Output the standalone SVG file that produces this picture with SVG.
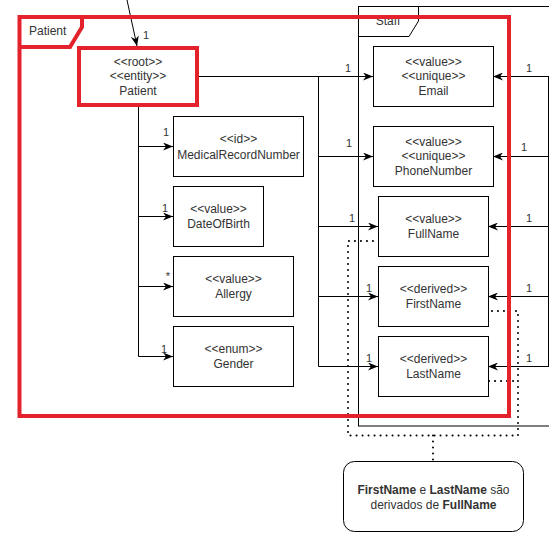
<svg xmlns="http://www.w3.org/2000/svg" width="549" height="537" viewBox="0 0 549 537">
<defs>
<marker id="arr" markerUnits="userSpaceOnUse" markerWidth="10" markerHeight="8" refX="10" refY="4" orient="auto">
<path d="M0,0 L10,4 L0,8 L3,4 Z" fill="#000"/>
</marker>
<style>
.box{fill:#fff;stroke:#000;stroke-width:1}
.t{font-family:"Liberation Sans",Arial,sans-serif;font-size:12px;fill:#333;text-anchor:middle}
.lbl{font-family:"Liberation Sans",Arial,sans-serif;font-size:11px;fill:#333}
.ln{fill:none;stroke:#000;stroke-width:1}
.ar{fill:none;stroke:#000;stroke-width:1;marker-end:url(#arr)}
.dot{fill:none;stroke:#000;stroke-width:2;stroke-dasharray:0.1 5.9;stroke-linecap:round}
.red{fill:none;stroke:#e3222b;stroke-width:4}
</style>
</defs>
<rect width="549" height="537" fill="#fff"/>

<g id="staff-package">
<rect x="358.5" y="6.5" width="210" height="419.5" fill="none" stroke="#000"/>
<path d="M358.5,6.5 H418.5 V21 L409,36.5 H358.5" fill="none" stroke="#000"/>
<text x="388" y="25" class="t">Staff</text>
</g>

<g id="connectors">
<line x1="127" y1="0" x2="137" y2="46" class="ar"/>
<text x="146" y="39" class="lbl" text-anchor="middle">1</text>
<polyline points="138.5,107 138.5,356.5" class="ln"/>
<line x1="138.5" y1="146.5" x2="173" y2="146.5" class="ar"/>
<line x1="138.5" y1="216.5" x2="173" y2="216.5" class="ar"/>
<line x1="138.5" y1="286.5" x2="173" y2="286.5" class="ar"/>
<line x1="138.5" y1="356.5" x2="173" y2="356.5" class="ar"/>
<text x="166" y="136" class="lbl" text-anchor="middle">1</text>
<text x="165" y="212" class="lbl" text-anchor="middle">1</text>
<text x="168" y="280" class="lbl" text-anchor="middle">*</text>
<text x="164" y="353" class="lbl" text-anchor="middle">1</text>

<line x1="199" y1="76.5" x2="373" y2="76.5" class="ar"/>
<polyline points="318.5,76.5 318.5,366.5" class="ln"/>
<line x1="318.5" y1="156.5" x2="373" y2="156.5" class="ar"/>
<line x1="318.5" y1="226.5" x2="378" y2="226.5" class="ar"/>
<line x1="318.5" y1="296.5" x2="378" y2="296.5" class="ar"/>
<line x1="318.5" y1="366.5" x2="378" y2="366.5" class="ar"/>
<text x="348" y="72" class="lbl" text-anchor="middle">1</text>
<text x="349" y="147" class="lbl" text-anchor="middle">1</text>
<text x="352" y="222" class="lbl" text-anchor="middle">1</text>
<text x="369" y="292" class="lbl" text-anchor="middle">1</text>
<text x="369" y="362" class="lbl" text-anchor="middle">1</text>

<polyline points="548.5,76.5 548.5,366.5" class="ln"/>
<line x1="549" y1="76.5" x2="493" y2="76.5" class="ar"/>
<line x1="549" y1="156.5" x2="493" y2="156.5" class="ar"/>
<line x1="549" y1="226.5" x2="488" y2="226.5" class="ar"/>
<line x1="549" y1="296.5" x2="488" y2="296.5" class="ar"/>
<line x1="549" y1="366.5" x2="488" y2="366.5" class="ar"/>
<text x="529" y="72" class="lbl" text-anchor="middle">1</text>
<text x="524" y="151" class="lbl" text-anchor="middle">1</text>
<text x="529" y="222" class="lbl" text-anchor="middle">1</text>
<text x="529" y="292" class="lbl" text-anchor="middle">1</text>
<text x="529" y="362" class="lbl" text-anchor="middle">1</text>

<polyline points="373,241 348,241 348,435.5 518,435.5 518,311 489,311" class="dot"/>
<polyline points="489,381 518,381" class="dot"/>
<polyline points="433,435.5 433,461" class="dot"/>
</g>

<g id="patient-package">
<rect x="19.5" y="17" width="489.5" height="399" class="red"/>
<path d="M19.5,17 H82 V27 L70,47 H19.5" class="red"/>
<text x="29" y="35" class="t" style="text-anchor:start">Patient</text>
</g>

<g id="node-patient">
<rect x="79" y="48" width="118" height="57" fill="#fff" class="red"/>
<text x="138" y="66" class="t">&lt;&lt;root&gt;&gt;</text>
<text x="138" y="80" class="t">&lt;&lt;entity&gt;&gt;</text>
<text x="138" y="95" class="t">Patient</text>
</g>

<g id="node-mrn">
<rect x="173.5" y="116.5" width="130" height="60" class="box"/>
<text x="238.5" y="143" class="t">&lt;&lt;id&gt;&gt;</text>
<text x="238.5" y="159" class="t">MedicalRecordNumber</text>
</g>
<g id="node-dob">
<rect x="173.5" y="186.5" width="90" height="60" class="box"/>
<text x="218.5" y="213" class="t">&lt;&lt;value&gt;&gt;</text>
<text x="218.5" y="228" class="t">DateOfBirth</text>
</g>
<g id="node-allergy">
<rect x="173.5" y="256.5" width="120" height="60" class="box"/>
<text x="233.5" y="283" class="t">&lt;&lt;value&gt;&gt;</text>
<text x="233.5" y="298" class="t">Allergy</text>
</g>
<g id="node-gender">
<rect x="173.5" y="326.5" width="120" height="60" class="box"/>
<text x="233.5" y="353" class="t">&lt;&lt;enum&gt;&gt;</text>
<text x="233.5" y="368" class="t">Gender</text>
</g>

<g id="node-email">
<rect x="373.5" y="46.5" width="120" height="60" class="box"/>
<text x="433.5" y="66" class="t">&lt;&lt;value&gt;&gt;</text>
<text x="433.5" y="80" class="t">&lt;&lt;unique&gt;&gt;</text>
<text x="433.5" y="95" class="t">Email</text>
</g>
<g id="node-phone">
<rect x="373.5" y="126.5" width="120" height="60" class="box"/>
<text x="433.5" y="146" class="t">&lt;&lt;value&gt;&gt;</text>
<text x="433.5" y="160" class="t">&lt;&lt;unique&gt;&gt;</text>
<text x="433.5" y="175" class="t">PhoneNumber</text>
</g>
<g id="node-fullname">
<rect x="378.5" y="196.5" width="110" height="60" class="box"/>
<text x="433.5" y="223" class="t">&lt;&lt;value&gt;&gt;</text>
<text x="433.5" y="238" class="t">FullName</text>
</g>
<g id="node-firstname">
<rect x="378.5" y="266.5" width="110" height="60" class="box"/>
<text x="433.5" y="293" class="t">&lt;&lt;derived&gt;&gt;</text>
<text x="433.5" y="308" class="t">FirstName</text>
</g>
<g id="node-lastname">
<rect x="378.5" y="336.5" width="110" height="60" class="box"/>
<text x="433.5" y="363" class="t">&lt;&lt;derived&gt;&gt;</text>
<text x="433.5" y="378" class="t">LastName</text>
</g>

<g id="note">
<rect x="343.5" y="461.5" width="180" height="70" rx="11" class="box"/>
<text x="433.5" y="494" class="t"><tspan font-weight="bold">FirstName</tspan> e <tspan font-weight="bold">LastName</tspan> são</text>
<text x="433.5" y="509" class="t">derivados de <tspan font-weight="bold">FullName</tspan></text>
</g>
</svg>
